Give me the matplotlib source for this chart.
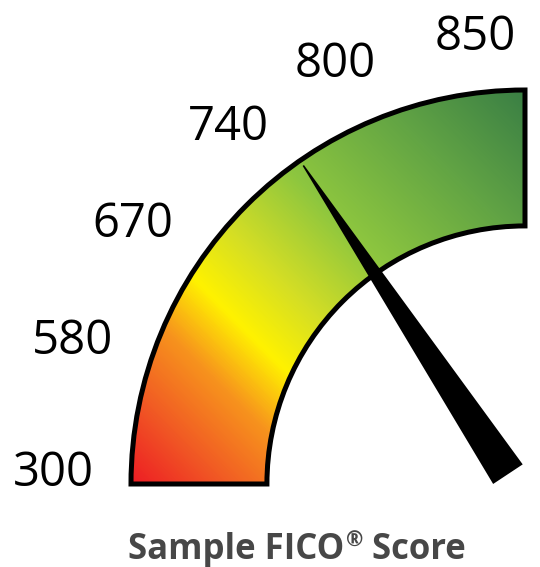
import numpy as np
import matplotlib
matplotlib.use("Agg")
import matplotlib.pyplot as plt
from matplotlib.patches import Wedge, Polygon
from matplotlib.colors import LinearSegmentedColormap

# scale labels around the gauge and the sample score shown by the needle
tick_values = [300, 580, 670, 740, 800, 850]
tick_labels = ["300", "580", "670", "740", "800", "850"]
sample_score = 758
title_parts = ["Sample FICO", "®", " Score"]

# gradient colours (red -> orange -> yellow -> green -> dark green)
grad_pos = [0.0, 0.12, 0.24, 0.34, 0.45, 0.6, 0.8, 1.0]
grad_col = ["#ed1c24", "#f15a24", "#f7941d", "#fff200", "#d4de25", "#8dc63f", "#63a544", "#3a7f45"]

# gauge geometry in units of the outer radius, centre at (0, 0)
r_out, r_in = 1.0, 0.655
tick_angles = [178.2, 162.1, 146.1, 129.4, 114.2, 96.3]
label_r = [1.198, 1.208, 1.2, 1.185, 1.178, 1.152]

px = 394.0  # pixels per unit
cx, cy = 525.0, 484.0
W, H = 540, 567

fig = plt.figure(figsize=(W / 100, H / 100), dpi=100)
ax = fig.add_axes([0, 0, 1, 1])
ax.set_xlim(-cx / px, (W - cx) / px)
ax.set_ylim(-(H - cy) / px, cy / px)
ax.set_aspect("equal")
ax.axis("off")

# gradient clipped to the quarter ring
cmap = LinearSegmentedColormap.from_list("fico", list(zip(grad_pos, grad_col)))
xs = np.linspace(-1.05, 0.05, 400)
ys = np.linspace(-0.05, 1.05, 400)
X, Y = np.meshgrid(xs, ys)
t = np.clip((1 + X + Y) / 2, 0, 1)
ring = Wedge((0, 0), r_out, 90, 180, width=r_out - r_in,
             facecolor="none", edgecolor="black", lw=3.6, zorder=3)
ax.add_patch(ring)
img = ax.imshow(t, cmap=cmap, origin="lower", extent=[xs[0], xs[-1], ys[0], ys[-1]],
                vmin=0, vmax=1, zorder=2, interpolation="bilinear")
img.set_clip_path(ring)

# scale labels
for lab, a, r in zip(tick_labels, tick_angles, label_r):
    ar = np.radians(a)
    ax.text(r * np.cos(ar), r * np.sin(ar) - 4 / px, lab, ha="center", va="center",
            fontsize=34, family="Open Sans", color="black")

# needle
theta = np.radians(np.interp(sample_score, tick_values, tick_angles))
tip = np.array([0.985 * np.cos(theta), 0.985 * np.sin(theta)])
phi = theta - np.radians(1.3)
u = np.array([np.cos(phi), np.sin(phi)])
n = np.array([-u[1], u[0]])
base = tip - 0.94 * u
needle = Polygon([tip + 0.002 * n, tip - 0.002 * n, base - 0.045 * n, base + 0.045 * n],
                 closed=True, facecolor="black", edgecolor="none", zorder=4)
ax.add_patch(needle)

# title with a small raised registered mark
tstyle = dict(fontweight="bold", family="Open Sans", color="#474747")
t1 = ax.text((128 - cx) / px, -(559 - cy) / px, title_parts[0], ha="left", va="baseline",
             fontsize=25, **tstyle)
t2 = ax.annotate(title_parts[1], xy=(1, 1), xycoords=t1, xytext=(1, 1), textcoords="offset points",
                 ha="left", va="top", fontsize=15, **tstyle)
ax.annotate(title_parts[2], xy=(1, 0), xycoords=(t2, t1), ha="left", va="bottom",
            fontsize=25, **tstyle)

fig.savefig("out.png", dpi=100)
